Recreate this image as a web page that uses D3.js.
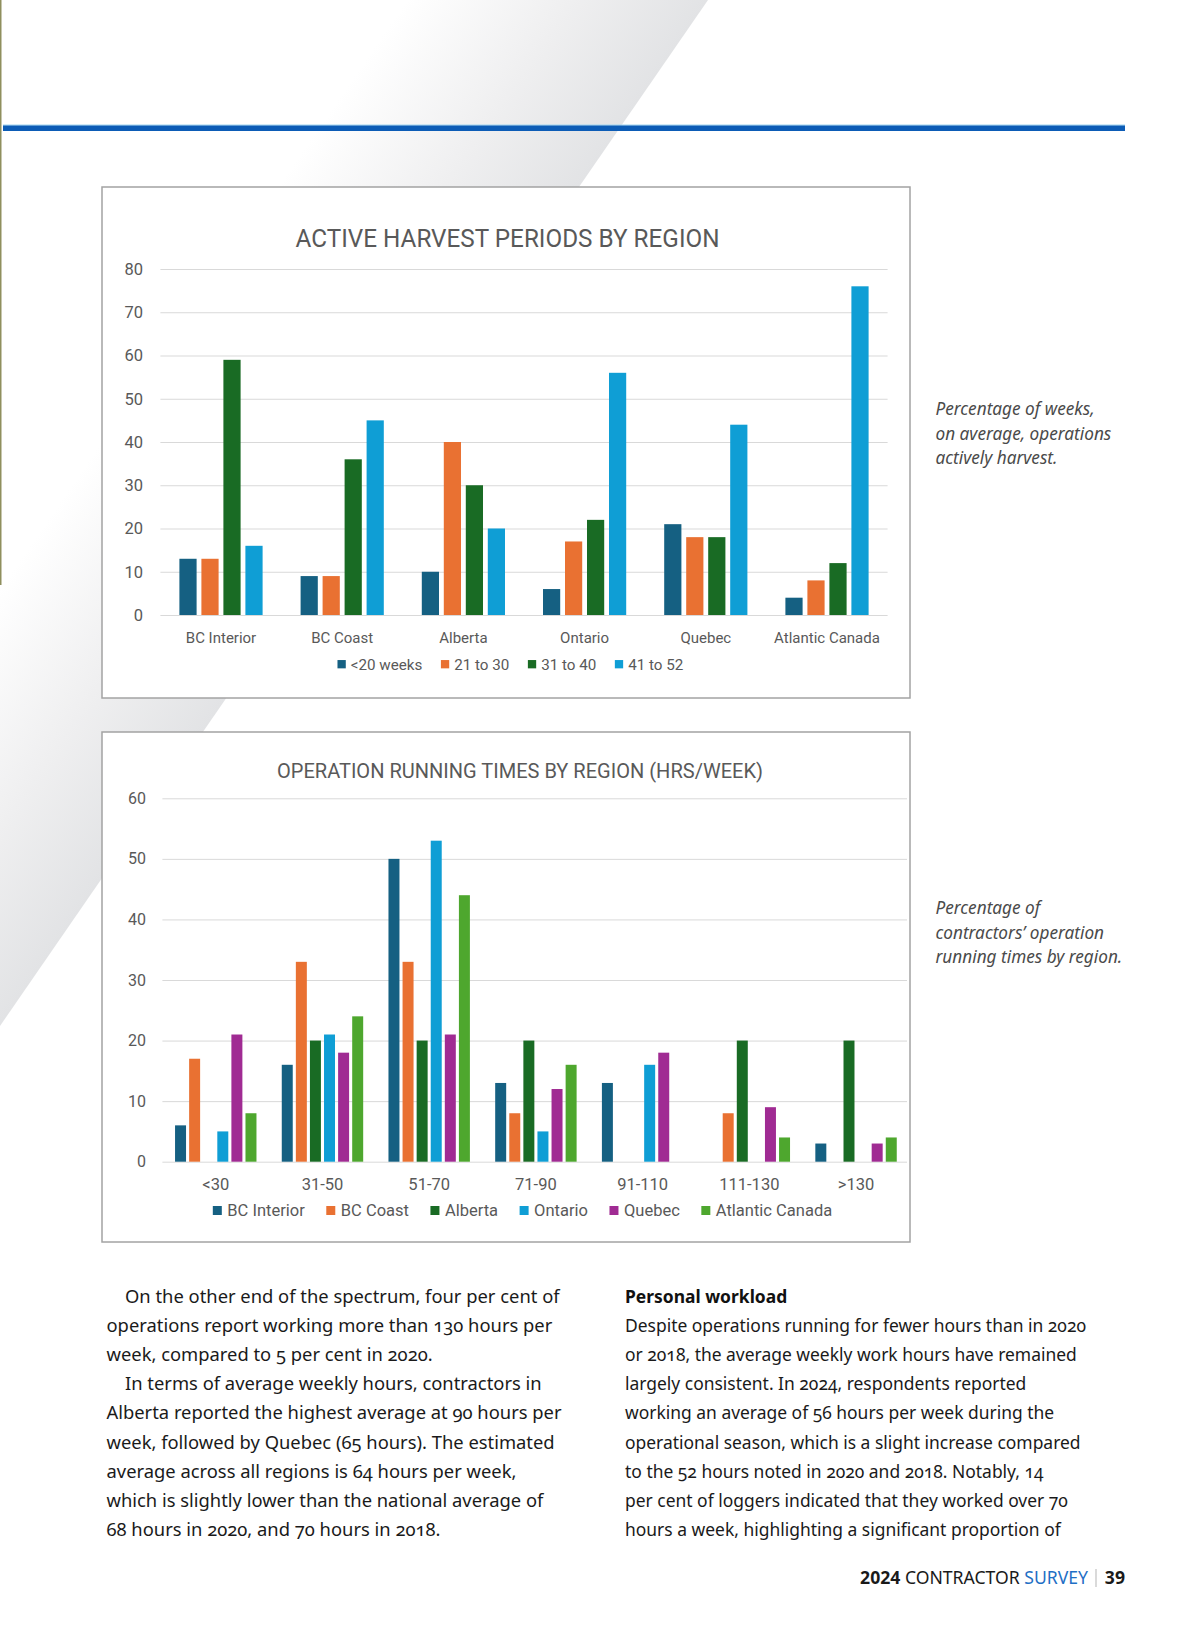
<!DOCTYPE html>
<html>
<head>
<meta charset="utf-8">
<script src="https://cdn.jsdelivr.net/npm/d3@7"></script>
<style>
  body { margin: 0; background: #fff; }
  svg { display: block; }
</style>
</head>
<body>
<svg id="page" width="1200" height="1631"></svg>
<script>
// ---- Chart 1: active harvest periods ----
const harvestRegions = ["BC Interior", "BC Coast", "Alberta", "Ontario", "Quebec", "Atlantic Canada"];
const harvestSeries = ["<20 weeks", "21 to 30", "31 to 40", "41 to 52"];
const harvestUnder20 = [13, 9, 10, 6, 21, 4];
const harvest21to30 = [13, 9, 40, 17, 18, 8];
const harvest31to40 = [59, 36, 30, 22, 18, 12];
const harvest41to52 = [16, 45, 20, 56, 44, 76];
const harvestTicks = [0, 10, 20, 30, 40, 50, 60, 70, 80];

// ---- Chart 2: operation running times ----
const hourBins = ["<30", "31-50", "51-70", "71-90", "91-110", "111-130", ">130"];
const hourSeries = ["BC Interior", "BC Coast", "Alberta", "Ontario", "Quebec", "Atlantic Canada"];
const hoursBCInterior = [6, 16, 50, 13, 13, 0, 3];
const hoursBCCoast = [17, 33, 33, 8, 0, 8, 0];
const hoursAlberta = [0, 20, 20, 20, 0, 20, 20];
const hoursOntario = [5, 21, 53, 5, 16, 0, 0];
const hoursQuebec = [21, 18, 21, 12, 18, 9, 3];
const hoursAtlantic = [8, 24, 44, 16, 0, 4, 4];
const hoursTicks = [0, 10, 20, 30, 40, 50, 60];

// ---- page text ----
const leftLines = [
  "On the other end of the spectrum, four per cent of",
  "operations report working more than 130 hours per",
  "week, compared to 5 per cent in 2020.",
  "In terms of average weekly hours, contractors in",
  "Alberta reported the highest average at 90 hours per",
  "week, followed by Quebec (65 hours). The estimated",
  "average across all regions is 64 hours per week,",
  "which is slightly lower than the national average of",
  "68 hours in 2020, and 70 hours in 2018."
];
const leftIndented = [0, 3];
const rightHeading = "Personal workload";
const rightLines = [
  "Despite operations running for fewer hours than in 2020",
  "or 2018, the average weekly work hours have remained",
  "largely consistent. In 2024, respondents reported",
  "working an average of 56 hours per week during the",
  "operational season, which is a slight increase compared",
  "to the 52 hours noted in 2020 and 2018. Notably, 14",
  "per cent of loggers indicated that they worked over 70",
  "hours a week, highlighting a significant proportion of"
];
const caption1 = ["Percentage of weeks,", "on average, operations", "actively harvest."];
const caption2 = ["Percentage of", "contractors\u2019 operation", "running times by region."];

const chartFont = "Roboto, 'Open Sans', sans-serif";
const pageFont = "'Noto Sans', 'Open Sans', sans-serif";

const svg = d3.select('#page');

// measure helper: font size that makes a string a given width
const measurer = svg.append('text').attr('x', -1000).attr('y', -1000).attr('font-size', 100);
function fitSize(str, width, family, weight, style) {
  measurer.attr('font-family', family).attr('font-weight', weight || 'normal')
    .attr('font-style', style || 'normal').text(str);
  const w = measurer.node().getComputedTextLength();
  return 100 * width / w;
}

// ---- background decoration ----
const defs = svg.append('defs');
const grad = defs.append('linearGradient')
  .attr('id', 'bandGrad')
  .attr('gradientUnits', 'userSpaceOnUse')
  .attr('x1', 150).attr('y1', 372)
  .attr('x2', 354).attr('y2', 513);
grad.append('stop').attr('offset', 0).attr('stop-color', '#ffffff');
grad.append('stop').attr('offset', 0.55).attr('stop-color', '#efeff0');
grad.append('stop').attr('offset', 1).attr('stop-color', '#e2e3e5');

svg.append('polygon')
  .attr('points', '0,0 708,0 0,1026')
  .attr('fill', 'url(#bandGrad)');

svg.append('rect').attr('x', 0).attr('y', 0).attr('width', 1.5).attr('height', 585).attr('fill', '#8f8f5e');

svg.append('rect').attr('x', 3).attr('y', 124.5).attr('width', 1122).attr('height', 1.2).attr('fill', '#9fd6f2');
svg.append('rect').attr('x', 3).attr('y', 125.5).attr('width', 1122).attr('height', 5.5).attr('fill', '#0c5cb6');

// ---- grouped bar chart ----
class GroupedBarchart {

  constructor(_config, _categories, _series, _values, _colors) {
    this.config = _config;
    this.categories = _categories;
    this.series = _series;
    this.values = _values;
    this.colors = _colors;
    this.initVis();
    this.renderVis();
  }

  initVis() {
    let vis = this;
    const c = vis.config;

    vis.chart = svg.append('g');

    // frame
    vis.chart.append('rect')
      .attr('x', c.frame.x).attr('y', c.frame.y)
      .attr('width', c.frame.w).attr('height', c.frame.h)
      .attr('fill', '#fff')
      .attr('stroke', '#a3a3a3')
      .attr('stroke-width', 1.5);

    vis.xScale = d3.scaleBand()
      .domain(vis.categories)
      .range([c.plot.left, c.plot.right])
      .paddingInner(c.groupPadding)
      .paddingOuter(c.groupPadding / 2);

    vis.xInner = d3.scaleBand()
      .domain(vis.series)
      .range([0, vis.xScale.bandwidth()])
      .paddingInner(c.barPadding);

    vis.yScale = d3.scaleLinear()
      .domain([0, c.yMax])
      .range([c.plot.bottom, c.plot.top]);

    vis.colorScale = d3.scaleOrdinal().domain(vis.series).range(vis.colors);

    // title
    vis.chart.append('text')
      .attr('x', c.title.cx)
      .attr('y', c.title.y)
      .attr('text-anchor', 'middle')
      .attr('font-family', chartFont)
      .attr('font-size', c.title.cap / 0.711)
      .attr('fill', '#595959')
      .attr('textLength', c.title.width)
      .attr('lengthAdjust', 'spacingAndGlyphs')
      .text(c.title.text);
  }

  renderVis() {
    let vis = this;
    const c = vis.config;

    // gridlines and y labels
    const yAxis = d3.axisLeft(vis.yScale)
      .tickValues(c.ticks)
      .tickSize(-(c.gridRight - c.plot.left))
      .tickPadding(c.plot.left - c.tickRight);

    const yAxisG = vis.chart.append('g')
      .attr('transform', `translate(${c.plot.left},0)`)
      .call(yAxis);
    yAxisG.select('.domain').remove();
    yAxisG.selectAll('line').attr('stroke', '#d9d9d9').attr('stroke-width', 1);
    yAxisG.selectAll('text')
      .attr('font-family', chartFont)
      .attr('font-size', c.yFont)
      .attr('fill', '#595959');

    // bars
    const data = vis.categories.map((cat, i) => ({
      category: cat,
      values: vis.series.map((s, j) => ({ key: s, value: vis.values[j][i] }))
    }));

    vis.chart.append('g').selectAll('g')
      .data(data)
      .join('g')
        .attr('transform', d => `translate(${vis.xScale(d.category)},0)`)
      .selectAll('rect')
      .data(d => d.values.filter(v => v.value > 0))
      .join('rect')
        .attr('x', d => vis.xInner(d.key))
        .attr('width', vis.xInner.bandwidth())
        .attr('y', d => vis.yScale(d.value))
        .attr('height', d => vis.yScale(0) - vis.yScale(d.value))
        .attr('fill', d => vis.colorScale(d.key));

    // category labels
    const xAxis = d3.axisBottom(vis.xScale).tickSize(0).tickPadding(0);
    const xAxisG = vis.chart.append('g')
      .attr('transform', `translate(0,${c.xLabelY})`)
      .call(xAxis);
    xAxisG.select('.domain').remove();
    xAxisG.selectAll('text')
      .attr('y', 0).attr('dy', 0)
      .attr('font-family', chartFont)
      .attr('font-size', c.xFont)
      .attr('fill', '#595959');

    // legend
    const lg = c.legend;
    const legendG = vis.chart.append('g');
    const items = legendG.selectAll('g')
      .data(vis.series)
      .join('g');
    items.append('rect')
      .attr('width', lg.square).attr('height', lg.square)
      .attr('y', lg.cy - lg.square / 2)
      .attr('fill', d => vis.colorScale(d));
    items.append('text')
      .attr('y', lg.cy)
      .attr('dy', '0.35em')
      .attr('font-family', chartFont)
      .attr('font-size', c.legendFont)
      .attr('fill', '#595959')
      .text(d => d);

    const widths = [];
    items.select('text').each(function() { widths.push(this.getComputedTextLength()); });
    const total = d3.sum(widths) + vis.series.length * (lg.square + lg.gapIn) + (vis.series.length - 1) * lg.gapOut;
    let x = lg.center - total / 2;
    items.each(function(d, i) {
      const item = d3.select(this);
      item.select('rect').attr('x', x);
      item.select('text').attr('x', x + lg.square + lg.gapIn);
      x += lg.square + lg.gapIn + widths[i] + lg.gapOut;
    });
  }
}

new GroupedBarchart({
  frame: { x: 102, y: 187, w: 808, h: 511 },
  plot: { left: 160.4, right: 887.6, top: 269, bottom: 615 },
  gridRight: 887.6,
  tickRight: 143,
  yMax: 80,
  ticks: harvestTicks,
  groupPadding: 0.3135,
  barPadding: 0.218,
  title: { text: "ACTIVE HARVEST PERIODS BY REGION", cx: 507.5, y: 247, cap: 18.3, width: 424 },
  yFont: 16.5,
  xFont: 15,
  xLabelY: 642.7,
  legendFont: 15.2,
  legend: { cy: 664.2, center: 510.4, square: 8.3, gapIn: 5, gapOut: 18.5 }
}, harvestRegions, harvestSeries,
  [harvestUnder20, harvest21to30, harvest31to40, harvest41to52],
  ["#156082", "#E97132", "#196B24", "#0F9ED5"]);

new GroupedBarchart({
  frame: { x: 102, y: 732, w: 808, h: 510 },
  plot: { left: 162.4, right: 909.4, top: 798.3, bottom: 1161.7 },
  gridRight: 907,
  tickRight: 146,
  yMax: 60,
  ticks: hoursTicks,
  groupPadding: 0.237,
  barPadding: 0.22,
  title: { text: "OPERATION RUNNING TIMES BY REGION (HRS/WEEK)", cx: 520, y: 778, cap: 15, width: 486 },
  yFont: 16,
  xFont: 16.5,
  xLabelY: 1190,
  legendFont: 16.5,
  legend: { cy: 1210.5, center: 522.5, square: 9, gapIn: 5.5, gapOut: 21.5 }
}, hourBins, hourSeries,
  [hoursBCInterior, hoursBCCoast, hoursAlberta, hoursOntario, hoursQuebec, hoursAtlantic],
  ["#156082", "#E97132", "#196B24", "#0F9ED5", "#A02B93", "#4EA72E"]);

// ---- side captions ----
const capSize = fitSize(caption1[1], 176, pageFont, 'normal', 'italic');
function drawCaption(lines, y0) {
  svg.append('g').selectAll('text')
    .data(lines)
    .join('text')
      .attr('x', 935.5)
      .attr('y', (d, i) => y0 + i * 24.5)
      .attr('font-family', pageFont)
      .attr('font-style', 'italic')
      .attr('font-size', capSize)
      .attr('fill', '#4a4a4a')
      .text(d => d);
}
drawCaption(caption1, 415);
drawCaption(caption2, 914);

// ---- body text ----
const lineStep = 29.1;
const baseY = 1303;
const bodyStyle = sel => sel
  .attr('font-family', pageFont)
  .attr('fill', '#1a1a1a')
  .style('font-feature-settings', "'onum' 1");

const leftSize = fitSize(leftLines[0], 435, pageFont);
svg.append('g').selectAll('text')
  .data(leftLines)
  .join('text')
    .attr('x', (d, i) => leftIndented.includes(i) ? 125 : 106.5)
    .attr('y', (d, i) => baseY + i * lineStep)
    .attr('font-size', leftSize)
    .call(bodyStyle)
    .text(d => d);

const rightSize = fitSize(rightLines[0], 463, pageFont);
svg.append('text')
  .attr('x', 625).attr('y', baseY)
  .attr('font-size', rightSize)
  .attr('font-weight', 'bold')
  .call(bodyStyle)
  .attr('fill', '#111')
  .text(rightHeading);
svg.append('g').selectAll('text')
  .data(rightLines)
  .join('text')
    .attr('x', 625)
    .attr('y', (d, i) => baseY + (i + 1) * lineStep)
    .attr('font-size', rightSize)
    .call(bodyStyle)
    .text(d => d);

// ---- footer ----
const footY = 1584;
const footer = svg.append('text')
  .attr('x', 1088).attr('y', footY)
  .attr('text-anchor', 'end')
  .attr('font-family', pageFont)
  .attr('font-size', 17.6)
  .attr('fill', '#1a1a1a');
footer.append('tspan').attr('font-weight', 'bold').text('2024 ');
footer.append('tspan').text('CONTRACTOR ');
footer.append('tspan').attr('fill', '#1f6fc5').text('SURVEY');
svg.append('line')
  .attr('x1', 1096).attr('x2', 1096)
  .attr('y1', footY - 15).attr('y2', footY + 3)
  .attr('stroke', '#b5b5b5').attr('stroke-width', 1);
svg.append('text')
  .attr('x', 1125).attr('y', footY)
  .attr('text-anchor', 'end')
  .attr('font-family', pageFont)
  .attr('font-size', 17.6)
  .attr('font-weight', 'bold')
  .attr('fill', '#1a1a1a')
  .text('39');

measurer.remove();
</script>
</body>
</html>
